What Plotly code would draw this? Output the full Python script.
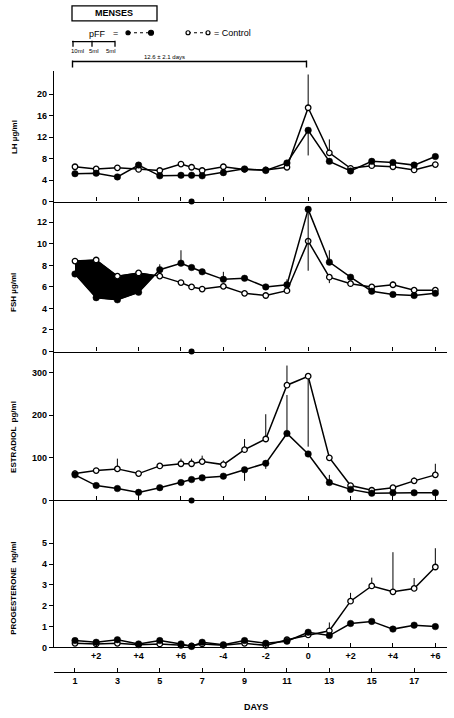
import numpy as np
import plotly.graph_objects as go

# ---------------- data ----------------
days = [1, 2, 3, 4, 5, 6, 6.5, 7, 8, 9, 10, 11, 12, 13, 14, 15, 16, 17, 18]

lh_control = [6.5, 6.1, 6.3, 6.0, 5.8, 7.0, 6.4, 5.8, 6.5, 6.0, 5.9, 6.4, 17.5, 9.1, 6.2, 6.7, 6.5, 5.9, 6.9]
lh_pff = [5.2, 5.3, 4.6, 6.8, 4.8, 4.9, 4.9, 4.8, 5.4, 6.1, 5.8, 7.2, 13.3, 7.5, 5.7, 7.5, 7.3, 6.8, 8.4]
lh_control_up = [0, 0, 0, 0, 0, 0, 0, 0, 0, 0, 0.6, 0, 6.2, 2.5, 0, 0, 0, 0, 0]
lh_control_dn = [0] * 19
lh_pff_up = [0] * 19
lh_pff_dn = [0, 0, 0, 0, 0, 0, 0, 0, 0, 0, 0, 0, 4.7, 0, 0, 0, 0, 0, 0]

fsh_control = [8.4, 8.5, 7.0, 7.3, 7.0, 6.4, 6.0, 5.8, 6.05, 5.4, 5.2, 5.65, 10.25, 6.9, 6.3, 6.0, 6.2, 5.7, 5.7]
fsh_pff = [7.2, 5.0, 4.8, 5.5, 7.6, 8.2, 7.8, 7.4, 6.7, 6.8, 6.0, 6.2, 13.2, 8.3, 6.9, 5.6, 5.3, 5.2, 5.4]
fsh_control_up = [0, 0, 0, 0, 0, 0, 0, 0, 0, 0, 0, 0, 0, 0, 0, 0, 0.3, 0, 0]
fsh_control_dn = [0, 0, 0, 0, 0, 0, 0, 0, 0, 0, 0, 0, 0, 0.55, 0, 0, 0, 0, 0]
fsh_pff_up = [0, 0, 0, 0, 0.5, 1.2, 0, 0, 0.7, 0, 0, 0.5, 0, 1.1, 0, 0, 0, 0, 0]
fsh_pff_dn = [0, 0, 0, 0, 0, 0, 0, 0, 0, 0, 0, 0, 5.7, 0, 0, 0, 0, 0, 0]

e2_control = [63, 70, 74, 63, 81, 86, 86, 91, 84, 119, 144, 270, 291, 100, 35, 24, 30, 46, 60]
e2_pff = [60, 35, 28, 19, 30, 42, 49, 53, 57, 72, 87, 157, 109, 42, 26, 17, 18, 18, 18]
e2_control_up = [8, 0, 24, 0, 0, 12, 12, 14, 10, 25, 58, 46, 0, 0, 0, 0, 0, 8, 26]
e2_control_dn = [0, 0, 0, 0, 0, 0, 0, 0, 0, 0, 0, 0, 165, 0, 0, 0, 0, 0, 0]
e2_pff_up = [0, 0, 0, 0, 0, 0, 0, 0, 0, 0, 0, 90, 0, 18, 0, 0, 0, 0, 0]
e2_pff_dn = [8, 0, 0, 15, 0, 0, 0, 0, 0, 26, 13, 0, 0, 0, 0, 0, 0, 0, 0]

p4_control = [0.2, 0.17, 0.2, 0.13, 0.17, 0.1, 0.08, 0.17, 0.1, 0.2, 0.1, 0.37, 0.6, 0.8, 2.22, 2.95, 2.67, 2.83, 3.86]
p4_pff = [0.33, 0.25, 0.37, 0.17, 0.33, 0.17, 0.05, 0.25, 0.13, 0.33, 0.2, 0.3, 0.73, 0.57, 1.15, 1.25, 0.88, 1.07, 1.0]
p4_control_up = [0, 0, 0, 0, 0, 0, 0, 0, 0, 0, 0, 0, 0, 0.4, 0.4, 0.4, 1.9, 0.5, 0.9]
p4_control_dn = [0] * 19
p4_pff_up = [0] * 19
p4_pff_dn = [0] * 19

marker_day = [6.5]            # black dot on the zero lines
suppression_days = [1, 2, 3, 4, 5]   # FSH shaded region (pFF below control)

panel_tick_days = [2, 4, 6, 8, 10, 12, 14, 16, 18]
panel_tick_text = ["+2", "+4", "+6", "-4", "-2", "0", "+2", "+4", "+6"]
cycle_tick_days = [1, 3, 5, 7, 9, 11, 13, 15, 17]
cycle_tick_text = ["1", "3", "5", "7", "9", "11", "13", "15", "17"]

# ---------------- layout helpers ----------------
W, H = 454, 718
def fx(px):
    return px / W
def fy(py):
    return 1 - py / H

X_DOMAIN = [fx(54), fx(447)]
X_RANGE = [0.01, 18.55]
FONT = "Liberation Sans"
tickfont = dict(family=FONT, size=9, color="black", weight="bold")

panels = [
    dict(title="LH µg/ml", ctrl=lh_control, pff=lh_pff, cu=lh_control_up, cd=lh_control_dn,
         pu=lh_pff_up, pd=lh_pff_dn, top=72, bottom=203, ymax=24.26,
         yticks=[0, 4, 8, 12, 16, 20], ty=138, dot=True),
    dict(title="FSH µg/ml", ctrl=fsh_control, pff=fsh_pff, cu=fsh_control_up, cd=fsh_control_dn,
         pu=fsh_pff_up, pd=fsh_pff_dn, top=203, bottom=354, ymax=13.92,
         yticks=[0, 2, 4, 6, 8, 10, 12], ty=295, dot=True),
    dict(title="ESTRADIOL  pg/ml", ctrl=e2_control, pff=e2_pff, cu=e2_control_up, cd=e2_control_dn,
         pu=e2_pff_up, pd=e2_pff_dn, top=354, bottom=504, ymax=348.8,
         yticks=[0, 100, 200, 300], ty=440, dot=True),
    dict(title="PROGESTERONE  ng/ml", ctrl=p4_control, pff=p4_pff, cu=p4_control_up, cd=p4_control_dn,
         pu=p4_pff_up, pd=p4_pff_dn, top=504, bottom=652, ymax=7.05,
         yticks=[0, 1, 2, 3, 4, 5], ty=593, dot=False),
]

fig = go.Figure()
layout = dict(width=W, height=H, margin=dict(l=0, r=0, t=0, b=0),
              paper_bgcolor="white", plot_bgcolor="rgba(0,0,0,0)", showlegend=False)

annotations = []
shapes = []

def text(x, y, s, size=9, bold=False, angle=0, xanchor="center"):
    annotations.append(dict(x=fx(x), y=fy(y), xref="paper", yref="paper", text=s,
                            xanchor=xanchor, yanchor="middle", textangle=angle, showarrow=False,
                            font=dict(family=FONT, size=size, color="black",
                                      weight="bold" if bold else "normal")))

for i, p in enumerate(panels, start=1):
    xa = "x" if i == 1 else f"x{i}"
    ya = "y" if i == 1 else f"y{i}"

    if i == 2:
        # shaded suppression area between control (top) and pFF (bottom)
        d = np.array(suppression_days, dtype=float)
        idx = [days.index(v) for v in suppression_days]
        c = np.array([fsh_control[k] for k in idx])
        q = np.array([fsh_pff[k] for k in idx])
        diff = c - q
        t = diff[-2] / (diff[-2] - diff[-1])
        xc = d[-2] + t * (d[-1] - d[-2])
        yc = c[-2] + t * (c[-1] - c[-2])
        poly_x = list(d[:-1]) + [xc] + list(d[:-1][::-1])
        poly_y = list(c[:-1]) + [yc] + list(q[:-1][::-1])
        fig.add_trace(go.Scatter(x=poly_x, y=poly_y, xaxis=xa, yaxis=ya, mode="lines",
                                 fill="toself", fillcolor="black", line=dict(color="black", width=1),
                                 hoverinfo="skip"))

    fig.add_trace(go.Scatter(
        x=days, y=p["ctrl"], xaxis=xa, yaxis=ya, mode="lines+markers",
        line=dict(color="black", width=1.5),
        marker=dict(symbol="circle", size=5.5, color="white", line=dict(color="black", width=1.3)),
        error_y=dict(type="data", symmetric=False, array=p["cu"], arrayminus=p["cd"],
                     color="black", thickness=1, width=0),
        cliponaxis=False, name="Control"))
    fig.add_trace(go.Scatter(
        x=days, y=p["pff"], xaxis=xa, yaxis=ya, mode="lines+markers",
        line=dict(color="black", width=1.5),
        marker=dict(symbol="circle", size=6.5, color="black", line=dict(color="black", width=0.5)),
        error_y=dict(type="data", symmetric=False, array=p["pu"], arrayminus=p["pd"],
                     color="black", thickness=1, width=0),
        cliponaxis=False, name="pFF"))
    if p["dot"]:
        fig.add_trace(go.Scatter(x=marker_day, y=[0] * len(marker_day), xaxis=xa, yaxis=ya,
                                 mode="markers", marker=dict(size=6, color="black"),
                                 cliponaxis=False, hoverinfo="skip"))

    key_x = "xaxis" if i == 1 else f"xaxis{i}"
    key_y = "yaxis" if i == 1 else f"yaxis{i}"
    layout[key_x] = dict(domain=X_DOMAIN, range=X_RANGE, anchor=ya, showline=True,
                         linecolor="black", linewidth=1.3, ticks="inside", ticklen=4,
                         tickwidth=1, tickcolor="black", tickvals=panel_tick_days,
                         ticktext=panel_tick_text, showticklabels=(i == 4),
                         tickfont=tickfont, showgrid=False, zeroline=False)
    if i > 1:
        layout[key_x]["matches"] = "x"
    layout[key_y] = dict(domain=[fy(p["bottom"]), fy(p["top"])], range=[0, p["ymax"]],
                         anchor=xa, showline=True, linecolor="black", linewidth=1.3,
                         ticks="outside", ticklen=4, tickwidth=1, tickcolor="black",
                         tickvals=p["yticks"], tickfont=tickfont, showgrid=False, zeroline=False)
    text(14, p["ty"], p["title"], size=8, bold=True, angle=-90)

# bottom "DAYS" axis (cycle days)
fig.add_trace(go.Scatter(x=[days[0]], y=[None], xaxis="x5", yaxis="y4", hoverinfo="skip"))
layout["xaxis5"] = dict(domain=X_DOMAIN, range=X_RANGE, overlaying="x", anchor="free",
                        position=fy(677), side="bottom", showline=True, linecolor="black",
                        linewidth=1.3, ticks="inside", ticklen=4, tickcolor="black",
                        tickvals=cycle_tick_days, ticktext=cycle_tick_text, tickfont=tickfont,
                        showgrid=False, zeroline=False)

text(256, 712, "DAYS", size=9, bold=True)

# ---------------- header: MENSES, key, brackets ----------------
def line(x0, y0, x1, y1, width=1.3, dash="solid"):
    shapes.append(dict(type="line", xref="paper", yref="paper", x0=fx(x0), y0=fy(y0),
                       x1=fx(x1), y1=fy(y1), line=dict(color="black", width=width, dash=dash)))

def dot(x, y, filled, size=5):
    shapes.append(dict(type="circle", xref="paper", yref="paper", xsizemode="pixel",
                       ysizemode="pixel", xanchor=fx(x), yanchor=fy(y),
                       x0=-size / 2, x1=size / 2, y0=-size / 2, y1=size / 2,
                       fillcolor="black" if filled else "white", line=dict(color="black", width=1.2)))

shapes.append(dict(type="rect", xref="paper", yref="paper", x0=fx(72), x1=fx(157),
                   y0=fy(21), y1=fy(6), line=dict(color="black", width=1.3)))
text(114, 13.5, "MENSES", size=9, bold=True)

text(97, 34, "pFF", size=9)
text(115, 33, "=", size=9)
line(128, 33, 151, 33, width=1.2, dash="dot")
dot(128, 33, True, 4)
dot(151, 33, True, 5)
line(188, 33, 208, 33, width=1.2, dash="dot")
dot(188, 33, False, 4)
dot(208, 33, False, 4)
text(212, 33, "= Control", size=9, xanchor="left")

# injection bracket
line(72, 42, 115, 42, width=1.3)
for xx in (73, 92, 115):
    line(xx, 41, xx, 47, width=1.3)
for xx, tx in ((77, "10ml"), (94, "5ml"), (111, "5ml")):
    text(xx, 51, tx, size=6)

# cycle-length bracket
text(164, 57, "12.6 ± 2.1 days", size=6)
line(72, 62, 307, 62, width=1.4)
line(72.5, 61, 72.5, 68, width=1.4)
line(306.5, 61, 306.5, 68, width=1.4)

layout["annotations"] = annotations
layout["shapes"] = shapes
fig.update_layout(**layout)

fig.write_html("out.html", config={"displayModeBar": False},
               post_script="document.body.style.margin='0';")
